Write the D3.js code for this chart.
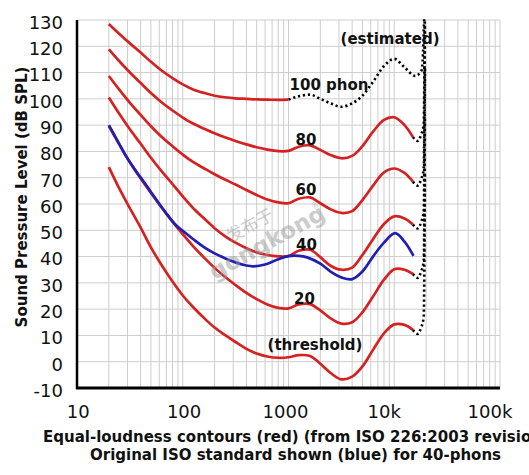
<!DOCTYPE html>
<html><head><meta charset="utf-8">
<script src="https://cdn.jsdelivr.net/npm/d3@7/dist/d3.min.js"></script>
<style>body{margin:0;background:#fff} svg{display:block;font-family:"DejaVu Sans",sans-serif}</style>
</head><body><svg id="c" width="529" height="475"></svg>
<script>
// ---- data ----
const freqHz = [20, 25, 31.5, 40, 50, 63, 80, 100, 125, 160, 200, 250, 315, 400, 500, 630, 800, 1000, 1250, 1600, 2000, 2500, 3150, 4000, 5000, 6300, 8000, 10000, 12500, 15000];
const phonThreshold = [74, 66, 58.5, 51, 43.5, 36.8, 30.5, 25.2, 20.8, 16.5, 13, 10.2, 7.5, 4.9, 3.1, 2.0, 1.5, 1.7, 2.5, 2.2, -0.8, -4.3, -6.7, -5.7, -1.8, 4.5, 10.8, 14.2, 14.0, 12.1];
const phon20 = [89.6, 82.8, 76, 69.7, 64.2, 58.7, 53.3, 48.5, 44, 39.5, 35.7, 32.3, 29.2, 26.2, 23.8, 21.8, 20.5, 20.3, 21.8, 21.9, 19.5, 16.5, 14.5, 15.0, 18.8, 24.8, 31.2, 35.2, 35.0, 33.4];
const phon40 = [100.5, 94.4, 88.5, 82.9, 77.6, 72.5, 67.6, 62.9, 58.5, 54.4, 50.8, 47.8, 45.3, 43.2, 41.6, 40.6, 40.1, 40.2, 42.2, 42.6, 39.8, 36.5, 35.0, 35.8, 40.6, 46.6, 52.4, 55.3, 54.5, 52.2];
const phon60 = [108.7, 103.6, 98.6, 93.9, 89.6, 85.6, 82.0, 78.8, 76.0, 73.5, 71.3, 69.3, 67.4, 65.3, 63.4, 61.7, 60.6, 60.3, 62.0, 62.5, 60.3, 58.0, 56.6, 57.3, 61.5, 67, 72, 73.5, 71.8, 68.5];
const phon80 = [118.8, 114.4, 110.1, 106.0, 102.2, 98.7, 95.6, 92.9, 90.6, 88.6, 86.9, 85.4, 84.0, 82.7, 81.6, 80.7, 80.1, 80.2, 81.8, 82.3, 80.6, 78.6, 77.4, 78.3, 82.0, 87.5, 92.0, 93.0, 90.0, 85.5];
const phon100Freq = [20, 25, 31.5, 40, 50, 63, 80, 100, 125, 160, 200, 250, 315, 400, 500, 630, 800, 1000];
const phon100 = [128.5, 124.8, 121.2, 117.6, 114.1, 110.8, 107.9, 105.5, 103.6, 102.2, 101.2, 100.6, 100.2, 100.0, 99.8, 99.7, 99.6, 99.7];
const phon100EstFreq = [1000, 1250, 1600, 2000, 2500, 3150, 4000, 5000, 6300, 8000, 10000, 12500, 15800, 18200, 19500];
const phon100Est = [99.7, 101, 101.6, 100, 98.3, 97, 98.3, 101.2, 106.5, 112.5, 115.2, 112, 108.7, 111, 140];
const estFreq = [15000, 16600, 18000, 19000, 19500];
const estOffset = [0, -1.5, 1, 5, 60];
const blueFreq = [20, 25, 28.5, 35, 44, 50, 59, 70, 85, 100, 125, 160, 200, 250, 315, 400, 465, 600, 800, 1000, 1250, 1500, 2000, 2500, 3200, 4000, 5000, 6300, 8000, 10200, 12500, 15200];
const blueDb = [90, 83, 78.8, 73.3, 67.8, 64.6, 60.5, 56.4, 52.2, 49.8, 46.7, 43.5, 41.2, 39.4, 37.8, 36.6, 36.3, 37, 39, 40.2, 40.3, 39.7, 37.3, 34.3, 32, 31.4, 34.3, 40, 45.3, 48.9, 45.7, 40.3];
const xTickValues = [10, 100, 1000, 10000, 100000];
const xTickLabels = ["10", "100", "1000", "10k", "100k"];
const yTickValues = [-10, 0, 10, 20, 30, 40, 50, 60, 70, 80, 90, 100, 110, 120, 130];
const curveLabels = ["100 phon", "80", "60", "40", "20", "(threshold)", "(estimated)"];
const labelFreq = [2416, 1464, 1464, 1480, 1416, 1781, 9124];
const labelDb = [103.3, 82.5, 63.4, 42.6, 22.0, 4.5, 121.0];
const xTitle1 = "Equal-loudness contours (red) (from ISO 226:2003 revision)";
const xTitle2 = "Original ISO standard shown (blue) for 40-phons";
const yTitle = "Sound Pressure Level (dB SPL)";

// ---- layout ----
const L = 77, R = 500, T = 20, B = 388;
const RED = "#d42222", BLUE = "#1f1fb4";
const svg = d3.select("#c");
const x = d3.scaleLog().domain([10, 100000]).range([L, R]);
const y = d3.scaleLinear().domain([-10, 130]).range([B, T]);

// grid
const minor = [];
for (let d = 10; d < 100000; d *= 10) for (let k = 1; k <= 9; k++) minor.push(d * k);
minor.push(100000);
const grid = svg.append("g").attr("stroke", "#cdcdcd").attr("stroke-width", 1);
grid.selectAll("line.v").data(minor).join("line").attr("class", "v")
  .attr("x1", d => x(d)).attr("x2", d => x(d)).attr("y1", T).attr("y2", B);
grid.selectAll("line.h").data(yTickValues).join("line").attr("class", "h")
  .attr("x1", L).attr("x2", R).attr("y1", d => y(d)).attr("y2", d => y(d));

// axes (labels)
const xAxis = d3.axisBottom(x).tickValues(xTickValues)
  .tickFormat((d, i) => xTickLabels[i]).tickSize(0).tickPadding(0);
const gx = svg.append("g").attr("transform", `translate(0,${B})`).call(xAxis);
gx.select(".domain").remove();
gx.selectAll("text").attr("font-size", 18).attr("font-family", "DejaVu Sans").attr("fill", "#111")
  .attr("dy", null).attr("y", 30)
  .attr("dx", (d, i) => xTickLabels[i].endsWith("k") ? -10.5 : (d >= 1000 ? -3.5 : 0.8));

const yAxis = d3.axisLeft(y).tickValues(yTickValues).tickFormat(d => String(d))
  .tickSize(0).tickPadding(0);
const gy = svg.append("g").attr("transform", `translate(63,0)`).call(yAxis);
gy.select(".domain").remove();
gy.selectAll("text").attr("font-size", 18).attr("font-family", "DejaVu Sans").attr("fill", "#111")
  .attr("dy", null).attr("y", 8.3).attr("x", 0);

// clip
svg.append("clipPath").attr("id", "clip").append("rect")
  .attr("x", L).attr("y", T - 1).attr("width", R - L).attr("height", B - T + 1);

const smooth = d3.line().x(d => x(d[0])).y(d => y(d[1])).curve(d3.curveCatmullRom.alpha(0.5));
const mono = d3.line().x(d => x(d[0])).y(d => y(d[1])).curve(d3.curveMonotoneX);
const plot = svg.append("g").attr("clip-path", "url(#clip)").attr("fill", "none");

const redSeries = [phonThreshold, phon20, phon40, phon60, phon80];
// dotted estimated extensions
const dotted = plot.append("g").attr("stroke", "#000").attr("stroke-width", 2.6)
  .attr("stroke-dasharray", "2.2,2.8");
redSeries.forEach(s => {
  const e = s[s.length - 1];
  dotted.append("path").attr("d", mono(estFreq.map((f, i) => [f, e + estOffset[i]])));
});
dotted.append("path").attr("d", mono(phon100EstFreq.map((f, i) => [f, phon100Est[i]])));

// red contours
redSeries.forEach(s => {
  plot.append("path").attr("d", smooth(freqHz.map((f, i) => [f, s[i]])))
    .attr("stroke", RED).attr("stroke-width", 2.7).attr("stroke-linejoin", "round");
});
plot.append("path").attr("d", smooth(phon100Freq.map((f, i) => [f, phon100[i]])))
  .attr("stroke", RED).attr("stroke-width", 2.7);
// blue original
plot.append("path").attr("d", smooth(blueFreq.map((f, i) => [f, blueDb[i]])))
  .attr("stroke", BLUE).attr("stroke-width", 2.7);

// axis lines
svg.append("line").attr("x1", L).attr("x2", L).attr("y1", T).attr("y2", B + 1)
  .attr("stroke", "#000").attr("stroke-width", 2.5);
svg.append("line").attr("x1", L - 1).attr("x2", R).attr("y1", B).attr("y2", B)
  .attr("stroke", "#000").attr("stroke-width", 3);

// curve labels
svg.append("g").selectAll("text").data(curveLabels).join("text")
  .attr("x", (d, i) => x(labelFreq[i])).attr("y", (d, i) => y(labelDb[i]))
  .attr("text-anchor", "middle").attr("font-weight", "bold").attr("font-size", 15)
  .attr("fill", "#111").text(d => d);

// titles
svg.append("text").attr("x", 43).attr("y", 441.5).attr("font-weight", "bold")
  .attr("font-size", 15).attr("fill", "#111").text(xTitle1);
svg.append("text").attr("x", 90).attr("y", 460).attr("font-weight", "bold")
  .attr("font-size", 15).attr("fill", "#111").text(xTitle2);
svg.append("text").attr("transform", "translate(26.5,197) rotate(-90)")
  .attr("text-anchor", "middle").attr("font-weight", "bold").attr("font-size", 15)
  .attr("fill", "#111").text(yTitle);

// watermark
const wm = svg.append("g").attr("transform", "translate(262,238) rotate(-29)")
  .attr("fill", "#9a9a9a").attr("opacity", 0.5);
wm.append("text").attr("x", -30).attr("y", -11).attr("font-size", 17)
  .attr("font-family", "Noto Sans CJK SC").text("发布于");
wm.append("text").attr("x", -62).attr("y", 14).attr("font-size", 23).attr("font-weight", "bold")
  .text("gongkong");
wm.append("text").attr("x", 58).attr("y", 0).attr("font-size", 9).text("®");
</script></body></html>
